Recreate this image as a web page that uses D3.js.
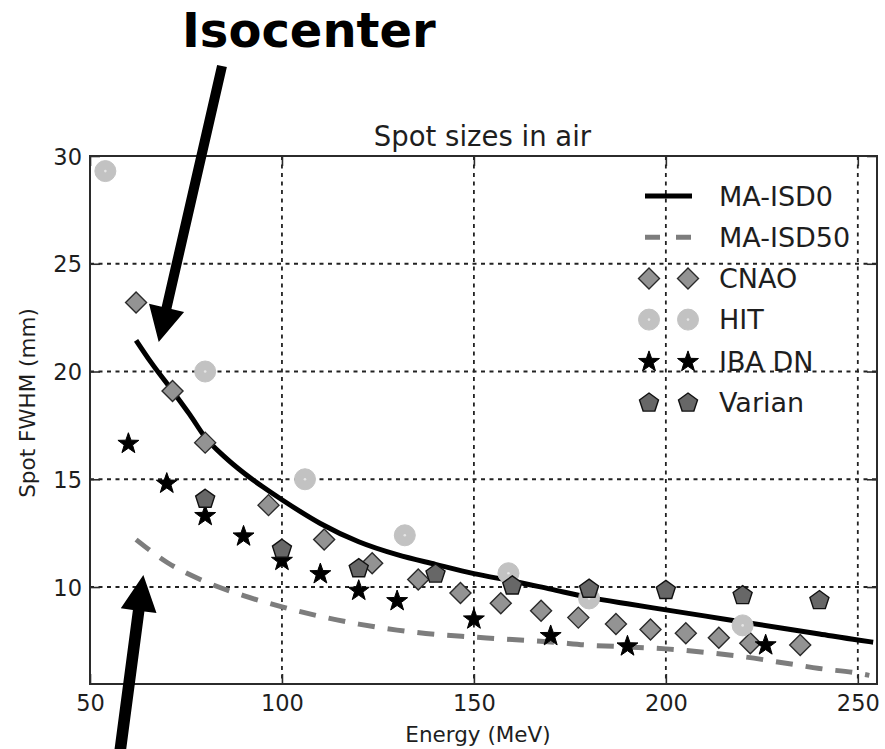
<!DOCTYPE html>
<html>
<head>
<meta charset="utf-8">
<script src="https://cdn.jsdelivr.net/npm/d3@7"></script>
<style>
  html, body { margin: 0; padding: 0; background: #fff; }
  svg { display: block; font-family: "DejaVu Sans", "Noto Sans", sans-serif; }
</style>
</head>
<body>
<svg id="chart" width="885" height="749"></svg>
<script>
// ---- Axis ticks ----
const xTicks = [50, 100, 150, 200, 250];
const yTicks = [10, 15, 20, 25, 30];
const xGrid = [100, 150, 200, 250];
const yGrid = [10, 15, 20, 25];

// ---- Model curves: spot FWHM (mm) vs proton energy (MeV) ----
const isd0Energy = [62, 66, 71.5, 76, 80, 85, 90, 95, 100, 110, 120, 130, 140, 150, 160, 170, 180, 190, 200, 210, 220, 230, 240, 250, 254];
const isd0Fwhm   = [21.45, 20.4, 19.1, 18.0, 16.95, 16.05, 15.3, 14.65, 14.05, 12.95, 12.1, 11.5, 11.05, 10.62, 10.28, 9.9, 9.52, 9.22, 8.94, 8.66, 8.38, 8.1, 7.82, 7.54, 7.44];

const isd50Energy = [62, 70, 80, 90, 100, 110, 120, 130, 140, 150, 160, 170, 180, 190, 200, 210, 220, 230, 240, 250, 253];
const isd50Fwhm   = [12.2, 11.15, 10.25, 9.6, 9.08, 8.64, 8.28, 8.0, 7.8, 7.68, 7.56, 7.45, 7.3, 7.22, 7.13, 6.97, 6.77, 6.5, 6.22, 6.0, 5.9];

// ---- Measured facility data ----
const cnaoEnergy = [62, 71.5, 80, 96.5, 111, 123.5, 135.5, 146.5, 157, 167.5, 177.2, 187, 196, 205.2, 213.8, 222, 235];
const cnaoFwhm   = [23.2, 19.1, 16.7, 13.8, 12.2, 11.1, 10.35, 9.72, 9.25, 8.9, 8.58, 8.28, 8.03, 7.85, 7.65, 7.39, 7.31];

const hitEnergy = [54, 80, 106, 132, 159, 180, 220];
const hitFwhm   = [29.3, 20.0, 15.0, 12.4, 10.64, 9.47, 8.22];

const ibaEnergy = [60, 70, 80, 90, 100, 110, 120, 130, 150, 170, 190, 226];
const ibaFwhm   = [16.7, 14.85, 13.35, 12.4, 11.27, 10.65, 9.88, 9.4, 8.55, 7.78, 7.3, 7.35];

const varianEnergy = [80, 100, 120, 140, 160, 180, 200, 220, 240];
const varianFwhm   = [14.12, 11.8, 10.9, 10.65, 10.1, 9.95, 9.89, 9.65, 9.42];

const legendLabels = ["MA-ISD0", "MA-ISD50", "CNAO", "HIT", "IBA DN", "Varian"];

// ---- Layout ----
const W = 885, H = 749;
const plot = { left: 90, right: 877, top: 156, bottom: 684 };

const svg = d3.select("#chart");

const x = d3.scaleLinear().domain([50, 255]).range([plot.left, plot.right]);
const y = d3.scaleLinear().domain([5.5, 30]).range([plot.bottom, plot.top]);

const textColor = "#1e1e1e";

// ---- Grid (dotted) ----
const gridG = svg.append("g").attr("class", "grid");
gridG.selectAll("line.gx").data(xGrid).join("line")
  .attr("x1", d => x(d)).attr("x2", d => x(d))
  .attr("y1", plot.top).attr("y2", plot.bottom)
  .attr("stroke", "#222").attr("stroke-width", 1.8)
  .attr("stroke-dasharray", "4,4.5");
gridG.selectAll("line.gy").data(yGrid).join("line")
  .attr("x1", plot.left).attr("x2", plot.right)
  .attr("y1", d => y(d)).attr("y2", d => y(d))
  .attr("stroke", "#222").attr("stroke-width", 1.8)
  .attr("stroke-dasharray", "4,4.5");

// ---- Curves ----
const line = d3.line().x(d => x(d[0])).y(d => y(d[1])).curve(d3.curveMonotoneX);

svg.append("path")
  .datum(d3.zip(isd0Energy, isd0Fwhm))
  .attr("d", line)
  .attr("fill", "none").attr("stroke", "#000").attr("stroke-width", 5);

svg.append("path")
  .datum(d3.zip(isd50Energy, isd50Fwhm))
  .attr("d", line)
  .attr("fill", "none").attr("stroke", "#7d7d7d").attr("stroke-width", 5)
  .attr("stroke-dasharray", "17,13");

// ---- Marker shapes ----
function diamondPath(r) { return `M0,${-r}L${r},0L0,${r}L${-r},0Z`; }
function pentagonPath(r) {
  const pts = d3.range(5).map(k => {
    const a = -Math.PI / 2 + k * 2 * Math.PI / 5;
    return [r * Math.cos(a), r * Math.sin(a) + r * 0.1];
  });
  return "M" + pts.map(p => p.join(",")).join("L") + "Z";
}
function starPath(R, r) {
  const pts = d3.range(10).map(k => {
    const a = -Math.PI / 2 + k * Math.PI / 5;
    const rad = k % 2 === 0 ? R : r;
    return [rad * Math.cos(a), rad * Math.sin(a) + R * 0.1];
  });
  return "M" + pts.map(p => p.join(",")).join("L") + "Z";
}

const markerStyles = {
  CNAO:   { draw: g => g.append("path").attr("d", diamondPath(10.5)).attr("fill", "#939393").attr("stroke", "#2a2a2a").attr("stroke-width", 1.4) },
  HIT:    { draw: g => {
              g.append("circle").attr("r", 10.5).attr("fill", "#c2c2c2").attr("stroke", "#c2c2c2").attr("stroke-width", 1);
              g.append("circle").attr("r", 1.3).attr("fill", "#e6e6e6");
            } },
  IBA:    { draw: g => g.append("path").attr("d", starPath(11, 4.4)).attr("fill", "#000").attr("stroke", "#000").attr("stroke-width", 1) },
  Varian: { draw: g => g.append("path").attr("d", pentagonPath(10)).attr("fill", "#676767").attr("stroke", "#111").attr("stroke-width", 1.4) }
};

function drawSeries(cls, energies, values, style) {
  const g = svg.append("g").attr("class", cls);
  g.selectAll("g").data(d3.zip(energies, values)).join("g")
    .attr("transform", d => `translate(${x(d[0])},${y(d[1])})`)
    .each(function () { style.draw(d3.select(this)); });
}
drawSeries("cnao", cnaoEnergy, cnaoFwhm, markerStyles.CNAO);
drawSeries("hit", hitEnergy, hitFwhm, markerStyles.HIT);
drawSeries("iba", ibaEnergy, ibaFwhm, markerStyles.IBA);
drawSeries("varian", varianEnergy, varianFwhm, markerStyles.Varian);

// ---- Frame and inward ticks ----
const tickLen = 10;
const axisStroke = "#2b2b2b";

const xAxis = svg.append("g").attr("transform", `translate(0,${plot.bottom})`)
  .call(d3.axisBottom(x).tickValues(xTicks).tickSizeInner(-tickLen).tickSizeOuter(0).tickPadding(0));
xAxis.select(".domain").remove();
xAxis.selectAll(".tick line").attr("stroke", axisStroke).attr("stroke-width", 1.6);
xAxis.selectAll(".tick text")
  .attr("y", 27).attr("dy", 0)
  .attr("font-size", 22.5).attr("fill", textColor)
  .attr("font-family", "DejaVu Sans");

const xTop = svg.append("g").attr("transform", `translate(0,${plot.top})`)
  .call(d3.axisTop(x).tickValues(xTicks).tickSizeInner(-tickLen).tickSizeOuter(0).tickFormat(""));
xTop.select(".domain").remove();
xTop.selectAll(".tick line").attr("stroke", axisStroke).attr("stroke-width", 1.6);

const yAxis = svg.append("g").attr("transform", `translate(${plot.left},0)`)
  .call(d3.axisLeft(y).tickValues(yTicks).tickSizeInner(-tickLen).tickSizeOuter(0).tickPadding(0));
yAxis.select(".domain").remove();
yAxis.selectAll(".tick line").attr("stroke", axisStroke).attr("stroke-width", 1.6);
yAxis.selectAll(".tick text")
  .attr("x", -8).attr("dy", "0.36em")
  .attr("font-size", 22.5).attr("fill", textColor)
  .attr("font-family", "DejaVu Sans");

const yRight = svg.append("g").attr("transform", `translate(${plot.right},0)`)
  .call(d3.axisRight(y).tickValues(yTicks).tickSizeInner(-tickLen).tickSizeOuter(0).tickFormat(""));
yRight.select(".domain").remove();
yRight.selectAll(".tick line").attr("stroke", axisStroke).attr("stroke-width", 1.6);

svg.append("rect")
  .attr("x", plot.left).attr("y", plot.top)
  .attr("width", plot.right - plot.left).attr("height", plot.bottom - plot.top)
  .attr("fill", "none").attr("stroke", axisStroke).attr("stroke-width", 2);

// ---- Titles and axis labels ----
svg.append("text")
  .attr("x", 482.5).attr("y", 146)
  .attr("text-anchor", "middle")
  .attr("font-size", 27.5).attr("fill", textColor)
  .text("Spot sizes in air");

svg.append("text")
  .attr("x", 478).attr("y", 742)
  .attr("text-anchor", "middle")
  .attr("font-size", 21.5).attr("fill", textColor)
  .text("Energy (MeV)");

svg.append("text")
  .attr("transform", "translate(35,403) rotate(-90)")
  .attr("text-anchor", "middle")
  .attr("font-size", 21.5).attr("fill", textColor)
  .text("Spot FWHM (mm)");

// ---- Legend ----
const legend = svg.append("g").attr("class", "legend");
const legendY0 = 196, legendStep = 41.2;
const legendSwatch = [649, 688];
legendLabels.forEach((label, i) => {
  const ly = legendY0 + i * legendStep;
  const g = legend.append("g");
  if (i === 0) {
    g.append("line").attr("x1", 645).attr("x2", 692).attr("y1", ly).attr("y2", ly)
      .attr("stroke", "#000").attr("stroke-width", 5);
  } else if (i === 1) {
    g.append("line").attr("x1", 645).attr("x2", 692).attr("y1", ly).attr("y2", ly)
      .attr("stroke", "#7d7d7d").attr("stroke-width", 5).attr("stroke-dasharray", "15,16");
  } else {
    const style = [null, null, markerStyles.CNAO, markerStyles.HIT, markerStyles.IBA, markerStyles.Varian][i];
    legendSwatch.forEach(sx => {
      const mg = g.append("g").attr("transform", `translate(${sx},${ly})`);
      style.draw(mg);
    });
  }
  g.append("text")
    .attr("x", 719).attr("y", ly).attr("dy", "0.36em")
    .attr("font-size", 27).attr("fill", textColor)
    .text(label);
});

// ---- Annotation arrows ----
function arrowPolygon(tail, tip, shaftHalf, headLen, headHalf) {
  const dx = tip[0] - tail[0], dy = tip[1] - tail[1];
  const len = Math.hypot(dx, dy);
  const ux = dx / len, uy = dy / len;
  const nx = -uy, ny = ux;
  const bx = tip[0] - headLen * ux, by = tip[1] - headLen * uy;
  return [
    [tail[0] + shaftHalf * nx, tail[1] + shaftHalf * ny],
    [bx + shaftHalf * nx, by + shaftHalf * ny],
    [bx + headHalf * nx, by + headHalf * ny],
    tip,
    [bx - headHalf * nx, by - headHalf * ny],
    [bx - shaftHalf * nx, by - shaftHalf * ny],
    [tail[0] - shaftHalf * nx, tail[1] - shaftHalf * ny]
  ];
}

// Isocenter arrow points at the start of the MA-ISD0 curve; the lower one at MA-ISD50.
const arrows = [
  { tipData: [67.9, 21.37], tail: [222, 66], shaftHalf: 5, headLen: 35, headHalf: 18 },
  { tipData: [63.9, 10.56], tail: [120, 752], shaftHalf: 5.8, headLen: 36, headHalf: 18 }
];
arrows.forEach(a => {
  const tip = [x(a.tipData[0]), y(a.tipData[1])];
  svg.append("path")
    .attr("d", d3.line()(arrowPolygon(a.tail, tip, a.shaftHalf, a.headLen, a.headHalf)) + "Z")
    .attr("fill", "#000");
});

svg.append("text")
  .attr("x", 182).attr("y", 47)
  .attr("font-size", 48).attr("font-weight", "bold").attr("fill", "#000")
  .text("Isocenter");
</script>
</body>
</html>
